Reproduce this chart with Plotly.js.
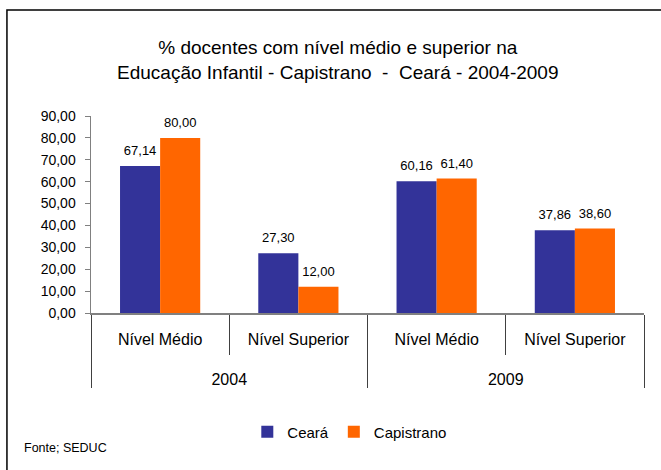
<!DOCTYPE html>
<html>
<head>
<meta charset="utf-8">
<script src="https://cdn.plot.ly/plotly-3.0.1.min.js"></script>
<style>html,body{margin:0;padding:0;background:#fff}#chart{width:661px;height:470px}</style>
</head>
<body>
<div id="chart"></div>
<script>
var years = ["2004", "2004", "2009", "2009"];
var levels = ["Nível Médio", "Nível Superior", "Nível Médio", "Nível Superior"];
var ceara = [67.14, 27.30, 60.16, 37.86];
var capistrano = [80.00, 12.00, 61.40, 38.60];
var seriesNames = ["Ceará", "Capistrano"];
var titleText = "% docentes com nível médio e superior na<br>Educação Infantil - Capistrano  -  Ceará - 2004-2009";
var sourceText = "Fonte; SEDUC";

var font = "'Liberation Sans', Arial, sans-serif";
// invisible spacer line under the inner labels to open space before the year row
var levelLabels = levels.map(function (s) {
  return s + "<br><span style='font-size:44px'>\u00a0</span>";
});
// invisible spacers that lift the value labels a little above the bars
var pad = "<span style='font-size:36px'>\u00a0</span>";
var labelTemplate = pad + "%{y:.2f}" + pad;

var traces = [
  {type: "bar", name: seriesNames[0], x: [years, levelLabels], y: ceara,
   marker: {color: "#333399"}, texttemplate: labelTemplate, textposition: "outside",
   constraintext: "none",
   textfont: {size: 13, color: "#000"}, cliponaxis: false},
  {type: "bar", name: seriesNames[1], x: [years, levelLabels], y: capistrano,
   marker: {color: "#FF6600"}, texttemplate: labelTemplate, textposition: "outside",
   constraintext: "none",
   textfont: {size: 13, color: "#000"}, cliponaxis: false}
];

var layout = {
  width: 661, height: 470,
  margin: {l: 91, r: 17, t: 116, b: 157},
  paper_bgcolor: "#fff", plot_bgcolor: "#fff",
  separators: ",.",
  font: {family: font, size: 16, color: "#000"},
  title: {text: titleText, x: 0.511, xanchor: "center", y: 0.885, yanchor: "middle",
          font: {family: font, size: 19, color: "#000"}},
  barmode: "group", bargap: 0.42, bargroupgap: 0,
  xaxis: {type: "multicategory", showline: true, linecolor: "#808080", linewidth: 1.5,
          ticks: "outside", ticklen: 40, tickcolor: "#404040", tickwidth: 1,
          ticklabelstandoff: 11,
          showdividers: true, dividercolor: "#404040", dividerwidth: 1,
          tickfont: {family: font, size: 16, color: "#000"}, showgrid: false},
  yaxis: {range: [0, 90], dtick: 10, tickformat: ".2f", showgrid: false, zeroline: false,
          showline: true, linecolor: "#808080", linewidth: 1.5,
          ticks: "outside", ticklen: 5, tickcolor: "#808080", ticklabelstandoff: 6,
          tickfont: {family: font, size: 14, color: "#000"}},
  showlegend: true,
  legend: {orientation: "h", x: 0.468, xanchor: "center", y: -0.604, yanchor: "middle",
           font: {family: font, size: 15, color: "#000"}, itemwidth: 30, tracegroupgap: 0},
  shapes: [{type: "rect", xref: "paper", yref: "paper", x0: -0.152, y0: -1.5, x1: 1.5, y1: 1.538,
            line: {color: "#000", width: 1.5}, fillcolor: "rgba(0,0,0,0)"}],
  annotations: [{text: sourceText, xref: "paper", yref: "paper", x: -0.125, y: -0.685,
                 xanchor: "left", yanchor: "middle", showarrow: false,
                 font: {family: font, size: 12.5, color: "#000"}}]
};

Plotly.newPlot("chart", traces, layout, {displayModeBar: false, staticPlot: true});
</script>
</body>
</html>
